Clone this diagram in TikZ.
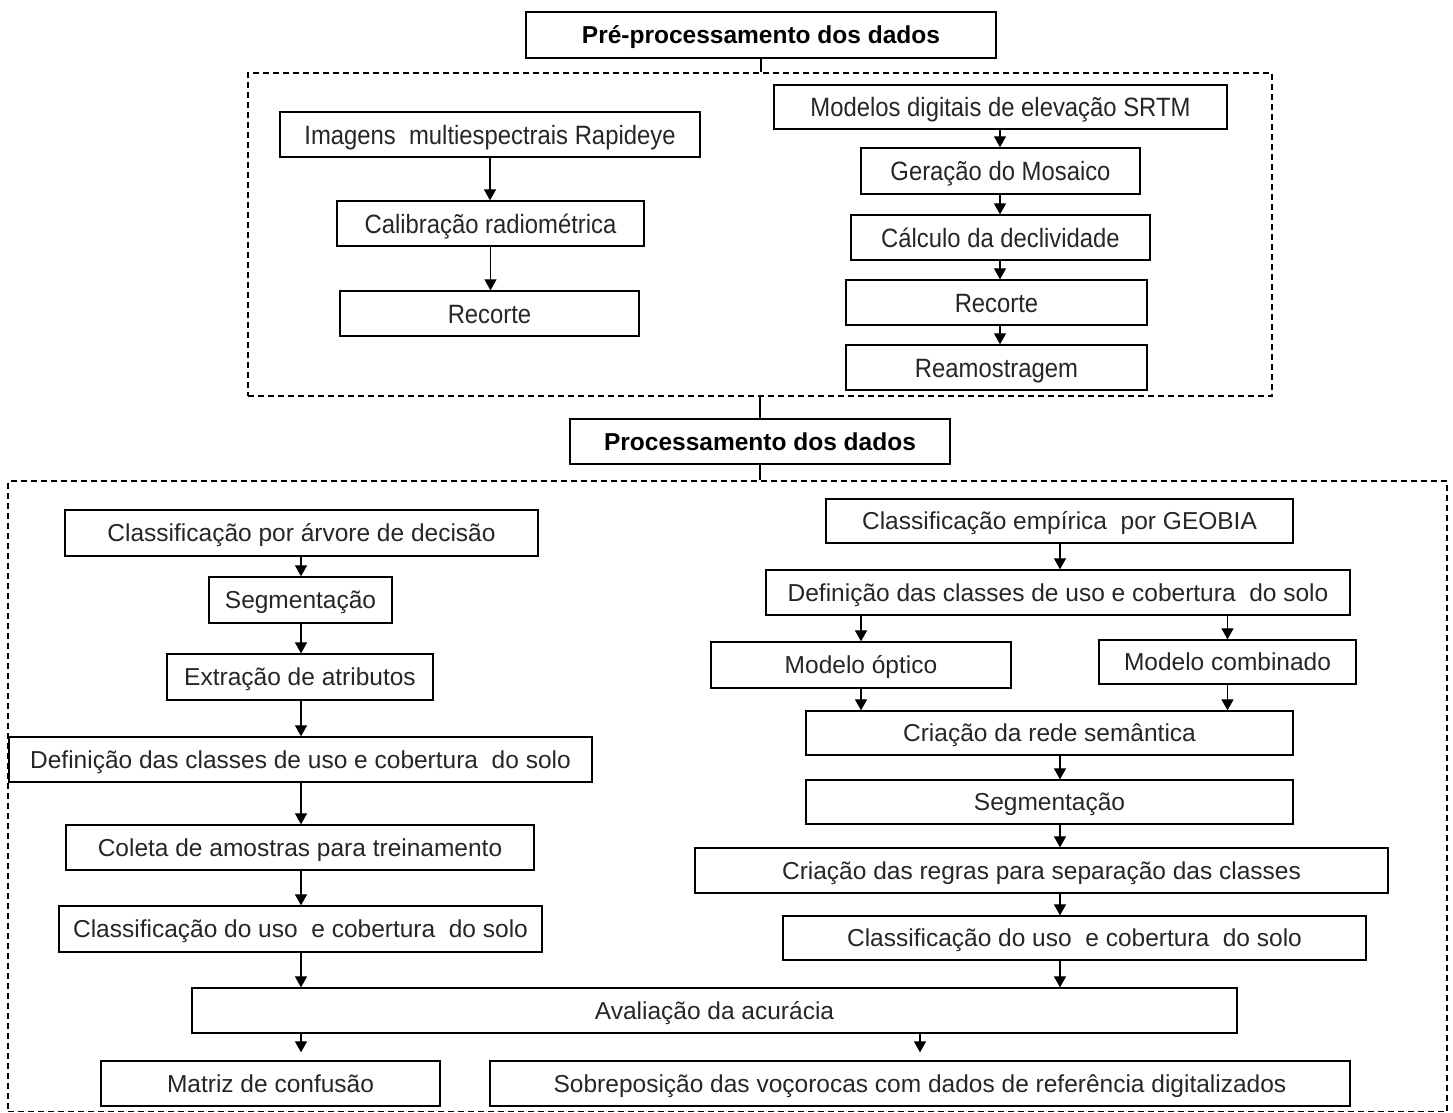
\documentclass[tikz,border=0pt]{standalone}
\usepackage{fontspec}
\setmainfont{Liberation Sans}
\newfontfamily\narrowsans[FakeStretch=0.9]{Liberation Sans}
\usetikzlibrary{arrows.meta,calc}
\tikzset{
 box/.style={draw, line width=1.3pt, inner sep=0pt, text=black!85, font=\fontsize{24.5}{28}\selectfont, text height=20pt, text depth=2.4pt},
 topbox/.style={box, font=\narrowsans\fontsize{26.5}{30}\selectfont, text height=22pt, text depth=3pt},
 titlebox/.style={box, text=black, font=\bfseries\fontsize{24.5}{28}\selectfont},
 dbox/.style={draw, line width=1.2pt, dash pattern=on 6pt off 4pt, inner sep=0pt},
 arr/.style={line width=1.2pt, -{Triangle[length=11pt,width=12pt]}},
 link/.style={line width=1.2pt},
}
\newcommand\bx[7][box]{\node[#1, minimum width={#5-#3}, minimum height={#6-#4}] (#2) at ({(#3+#5)/2},{(#4+#6)/2}) {#7};}
\begin{document}
\begin{tikzpicture}[x=1pt,y=-1pt]
\useasboundingbox (0,0) rectangle (1453,1113);
% containers
\bx[dbox]{pre}{248}{73}{1272}{396}{}
\bx[dbox]{proc}{8}{481}{1447}{1111.5}{}
% titles
\bx[titlebox]{t1}{526}{12}{996}{58}{Pré-processamento dos dados}
\bx[titlebox]{t2}{570}{419}{950}{464}{Processamento dos dados}
\draw[link] (t1.south) -- (t1.south |- pre.north);
\draw[link] (t2.north |- pre.south) -- (t2.north);
\draw[link] (t2.south) -- (t2.south |- proc.north);
% top left
\bx[topbox]{a1}{280}{112}{700}{157}{Imagens\ \ multiespectrais Rapideye}
\bx[topbox]{a2}{337}{201}{644}{246}{Calibração radiométrica}
\bx[topbox]{a3}{340}{291}{639}{336}{Recorte}
\draw[arr] (a1.south) -- (a1.south |- a2.north);
\draw[arr] (a2.south) -- (a2.south |- a3.north);
% top right
\bx[topbox]{b1}{774}{85}{1227}{129}{Modelos digitais de elevação SRTM}
\bx[topbox]{b2}{861}{148}{1140}{194}{Geração do Mosaico}
\bx[topbox]{b3}{851}{215}{1150}{260}{Cálculo da declividade}
\bx[topbox]{b4}{846}{280}{1147}{325}{Recorte}
\bx[topbox]{b5}{846}{345}{1147}{390}{Reamostragem}
\coordinate (bx) at (1000,0);
\draw[arr] (b1.south -| bx) -- (b2.north -| bx);
\draw[arr] (b2.south -| bx) -- (b3.north -| bx);
\draw[arr] (b3.south -| bx) -- (b4.north -| bx);
\draw[arr] (b4.south -| bx) -- (b5.north -| bx);
% bottom left
\bx{c1}{65}{510}{538}{556}{Classificação por árvore de decisão}
\bx{c2}{209}{577}{392}{623}{Segmentação}
\bx{c3}{167}{654}{433}{700}{Extração de atributos}
\bx{c4}{9}{737}{592}{782}{Definição das classes de uso e cobertura\ \ do solo}
\bx{c5}{66}{825}{534}{870}{Coleta de amostras para treinamento}
\bx{c6}{59}{906}{542}{952}{Classificação do uso\ \ e cobertura\ \ do solo}
\coordinate (lx) at (301,0);
\draw[arr] (c1.south -| lx) -- (c2.north -| lx);
\draw[arr] (c2.south -| lx) -- (c3.north -| lx);
\draw[arr] (c3.south -| lx) -- (c4.north -| lx);
\draw[arr] (c4.south -| lx) -- (c5.north -| lx);
\draw[arr] (c5.south -| lx) -- (c6.north -| lx);
% bottom right
\bx{d1}{826}{499}{1293}{543}{Classificação empírica\ \ por GEOBIA}
\bx{d2}{766}{570}{1350}{615}{Definição das classes de uso e cobertura\ \ do solo}
\bx{d3}{711}{642}{1011}{688}{Modelo óptico}
\bx{d4}{1099}{640}{1356}{684}{Modelo combinado}
\bx{d5}{806}{711}{1293}{755}{Criação da rede semântica}
\bx{d6}{806}{780}{1293}{824}{Segmentação}
\bx{d7}{695}{848}{1388}{893}{Criação das regras para separação das classes}
\bx{d8}{783}{916}{1366}{960}{Classificação do uso\ \ e cobertura\ \ do solo}
\coordinate (rx) at (1060,0);
\draw[arr] (d1.south -| rx) -- (d2.north -| rx);
\draw[arr] (d3.north |- d2.south) -- (d3.north);
\draw[arr] (d4.north |- d2.south) -- (d4.north);
\draw[arr] (d3.south) -- (d3.south |- d5.north);
\draw[arr] (d4.south) -- (d4.south |- d5.north);
\draw[arr] (d5.south -| rx) -- (d6.north -| rx);
\draw[arr] (d6.south -| rx) -- (d7.north -| rx);
\draw[arr] (d7.south -| rx) -- (d8.north -| rx);
% accuracy
\bx{e}{192}{988}{1237}{1033}{Avaliação da acurácia}
\draw[arr] (c6.south -| lx) -- (e.north -| lx);
\draw[arr] (d8.south -| rx) -- (e.north -| rx);
\bx{f1}{101}{1061}{440}{1106}{Matriz de confusão}
\bx{f2}{490}{1061}{1350}{1106}{Sobreposição das voçorocas com dados de referência digitalizados}
\draw[arr, shorten >=8pt] (e.south -| lx) -- (f1.north -| lx);
\draw[arr, shorten >=8pt] (f2.north |- e.south) -- (f2.north);
\end{tikzpicture}
\end{document}
